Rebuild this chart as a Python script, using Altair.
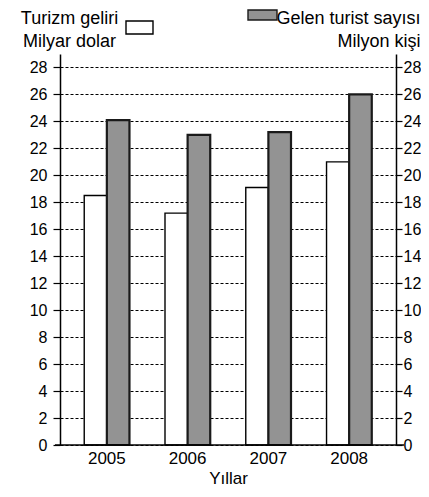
import altair as alt
import pandas as pd

years = ["2005", "2006", "2007", "2008"]
gelir = [18.5, 17.2, 19.1, 21.0]      # Turizm geliri (Milyar dolar)
turist = [24.1, 23.0, 23.2, 26.0]     # Gelen turist sayısı (Milyon kişi)
series_keys = ["Turizm geliri", "Gelen turist sayısı"]
y_ticks = list(range(0, 29, 2))

rows = []
for i, yr in enumerate(years):
    rows.append({"Yıl": yr, "Seri": series_keys[0], "Değer": gelir[i]})
    rows.append({"Yıl": yr, "Seri": series_keys[1], "Değer": turist[i]})
df = pd.DataFrame(rows)

FONT = "Liberation Sans"
W, H = 336, 391
GRAY = "#939393"

x_enc = alt.X(
    "Yıl:N",
    scale=alt.Scale(paddingInner=0.44, paddingOuter=0.3),
    axis=alt.Axis(
        title="Yıllar", labelAngle=0, domain=False, ticks=False,
        labelFontSize=17, labelPadding=5, labelColor="black", labelFont=FONT,
        titleFontSize=17, titleFontWeight="normal", titleColor="black", titleFont=FONT,
        titleBaseline="alphabetic", titleY=38,
    ),
)
xoff = alt.XOffset("Seri:N", scale=alt.Scale(domain=series_keys, paddingInner=0, paddingOuter=0))
yscale = alt.Scale(domain=[0, 29], nice=False, zero=True)

bars = alt.Chart(df).mark_bar().encode(
    x=x_enc,
    xOffset=xoff,
    y=alt.Y(
        "Değer:Q", scale=yscale,
        axis=alt.Axis(
            orient="left", values=y_ticks, grid=True, gridDash=[3, 2], gridColor="black",
            gridWidth=1, domainColor="black", domainWidth=1.5, tickColor="black",
            tickSize=7, tickWidth=1.2, labelFontSize=16, labelPadding=6, labelColor="black",
            labelFont=FONT,
            title=["Turizm geliri", "Milyar dolar"], titleAngle=0, titleAlign="center",
            titleBaseline="alphabetic", titleX=9, titleY=-31, titleLineHeight=23,
            titleFontSize=18, titleFontWeight="normal", titleColor="black", titleFont=FONT,
        ),
    ),
    fill=alt.Fill("Seri:N", scale=alt.Scale(domain=series_keys, range=["white", GRAY]), legend=None),
    stroke=alt.Stroke("Seri:N", scale=alt.Scale(domain=series_keys, range=["black", "#1a1a1a"]), legend=None),
    strokeWidth=alt.StrokeWidth("Seri:N", scale=alt.Scale(domain=series_keys, range=[1.4, 2.2]), legend=None),
)

right_axis = alt.Chart(df).mark_bar(opacity=0).encode(
    x=alt.X("Yıl:N"),
    xOffset=alt.XOffset("Seri:N"),
    y=alt.Y(
        "Değer:Q", scale=yscale,
        axis=alt.Axis(
            orient="right", values=y_ticks, grid=False, domainColor="black", domainWidth=1.5,
            tickColor="black", tickSize=6, tickWidth=1.2, labelFontSize=16, labelPadding=1,
            labelColor="black", labelFont=FONT,
            title=["Gelen turist sayısı", "Milyon kişi"], titleAngle=0, titleAlign="right",
            titleBaseline="alphabetic", titleX=24, titleY=-31, titleLineHeight=23,
            titleFontSize=18, titleFontWeight="normal", titleColor="black", titleFont=FONT,
        ),
    ),
)

one = pd.DataFrame({"k": [0]})
baseline = alt.Chart(one).mark_rule(color="black", strokeWidth=1.6).encode(
    x=alt.value(-5), x2=alt.value(W + 8), y=alt.value(H)
)
white_swatch = alt.Chart(one).mark_rect(fill="white", stroke="black", strokeWidth=1.4).encode(
    x=alt.value(66), x2=alt.value(93), y=alt.value(-33), y2=alt.value(-20)
)
gray_swatch = alt.Chart(one).mark_rect(fill=GRAY, stroke="#1a1a1a", strokeWidth=1.4).encode(
    x=alt.value(188), x2=alt.value(217), y=alt.value(-44), y2=alt.value(-34)
)

chart = (
    alt.layer(bars, right_axis, baseline, white_swatch, gray_swatch)
    .resolve_scale(y="independent")
    .properties(
        width=W, height=H,
        autosize=alt.AutoSizeParams(type="none"),
        padding={"left": 52, "top": 46, "right": 25, "bottom": 44},
        background="white",
    )
    .configure_view(strokeWidth=0)
)

chart.save("out.html", embed_options={"renderer": "svg", "actions": False})
